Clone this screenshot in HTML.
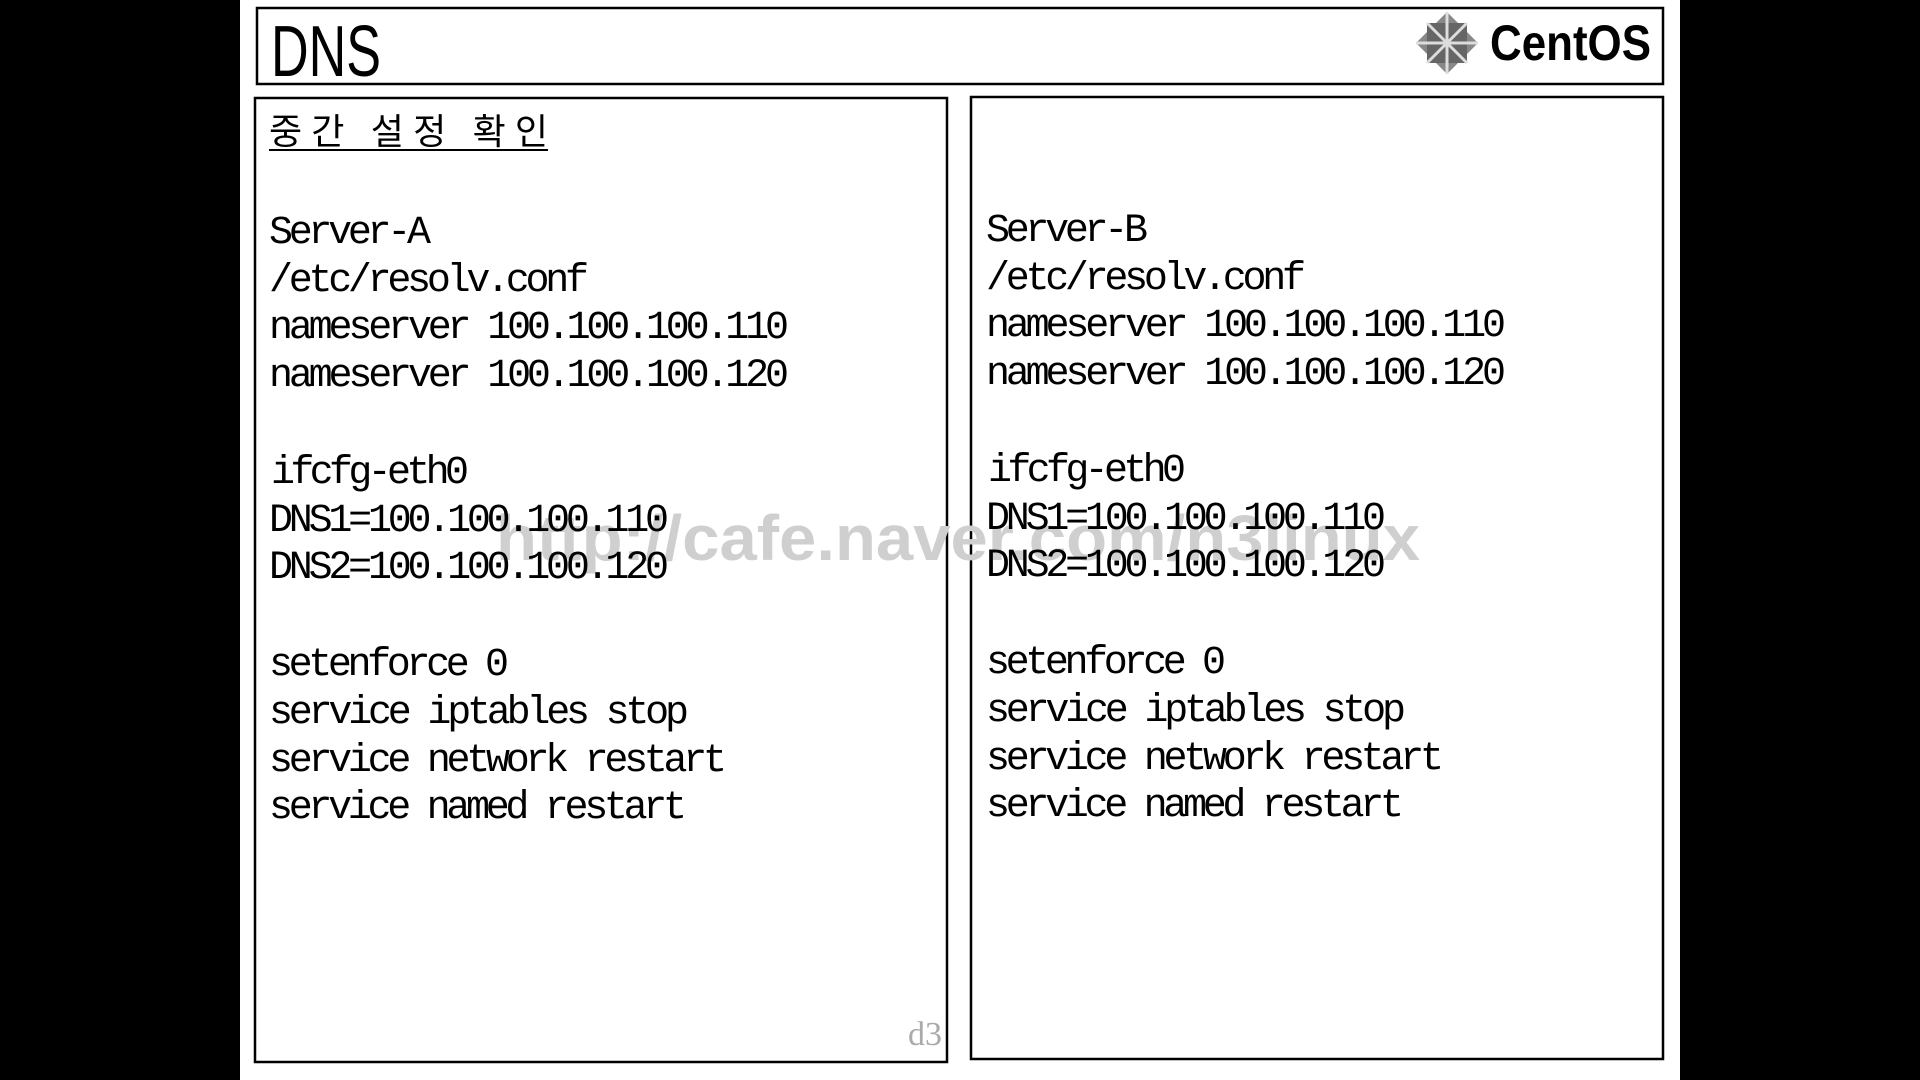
<!DOCTYPE html>
<html><head><meta charset="utf-8"><style>
html,body{margin:0;padding:0;background:#000;}
svg{display:block}
</style></head><body>
<svg width="1920" height="1080" viewBox="0 0 1920 1080" xmlns="http://www.w3.org/2000/svg">
<rect x="0" y="0" width="1920" height="1080" fill="#000"/>
<rect x="240" y="0" width="1440" height="1080" fill="#fff"/>
<rect x="257" y="8" width="1406" height="76" fill="none" stroke="#000" stroke-width="2.5"/>
<rect x="255" y="98" width="692" height="964" fill="none" stroke="#000" stroke-width="2.5"/>
<rect x="971" y="97" width="692" height="962" fill="none" stroke="#000" stroke-width="2.5"/>
<text x="271" y="76" font-family="Liberation Sans, sans-serif" font-size="72" textLength="110" lengthAdjust="spacingAndGlyphs">DNS</text>
<g transform="translate(1447,43)">
<polygon points="0,-31 31,0 0,31 -31,0" fill="#888"/>
<rect x="-20" y="-20" width="40" height="40" fill="#666"/>
<path d="M0,-31 L0,31 M-31,0 L31,0 M-20,-20 L20,20 M-20,20 L20,-20" stroke="#ddd" stroke-width="3"/>
</g>
<text x="1490" y="60" font-family="Liberation Sans, sans-serif" font-weight="bold" font-size="50" textLength="161" lengthAdjust="spacingAndGlyphs">CentOS</text>
<text x="496" y="560" font-family="Liberation Sans, sans-serif" font-weight="bold" font-size="64" fill="#cfcfcf" textLength="924" lengthAdjust="spacingAndGlyphs">http://cafe.naver.com/n3linux</text>
<g font-family="Liberation Mono, 'Noto Sans CJK KR', monospace" font-size="40" fill="#000" lengthAdjust="spacingAndGlyphs">
<text x="269" y="144" textLength="279" font-family="'Noto Sans CJK KR', sans-serif" font-size="36">중간 설정 확인</text>
<line x1="269" y1="150" x2="548" y2="150" stroke="#000" stroke-width="2"/>
<text x="269" y="243" textLength="162">Server-A</text>
<text x="269" y="291" textLength="320">/etc/resolv.conf</text>
<text x="269" y="338" textLength="520">nameserver 100.100.100.110</text>
<text x="269" y="386" textLength="520">nameserver 100.100.100.120</text>
<text x="271" y="483" textLength="198">ifcfg-eth0</text>
<text x="269" y="531" textLength="400">DNS1=100.100.100.110</text>
<text x="269" y="578" textLength="400">DNS2=100.100.100.120</text>
<text x="269" y="675" textLength="240">setenforce 0</text>
<text x="269" y="723" textLength="420">service iptables stop</text>
<text x="269" y="771" textLength="458">service network restart</text>
<text x="269" y="818" textLength="418">service named restart</text>

<text x="986" y="241" textLength="162">Server-B</text>
<text x="986" y="289" textLength="320">/etc/resolv.conf</text>
<text x="986" y="336" textLength="520">nameserver 100.100.100.110</text>
<text x="986" y="384" textLength="520">nameserver 100.100.100.120</text>
<text x="988" y="481" textLength="198">ifcfg-eth0</text>
<text x="986" y="529" textLength="400">DNS1=100.100.100.110</text>
<text x="986" y="576" textLength="400">DNS2=100.100.100.120</text>
<text x="986" y="673" textLength="240">setenforce 0</text>
<text x="986" y="721" textLength="420">service iptables stop</text>
<text x="986" y="769" textLength="458">service network restart</text>
<text x="986" y="816" textLength="418">service named restart</text>
</g>
<text x="908" y="1045" font-family="Liberation Serif, serif" font-size="34" fill="#aaa">d3</text>
</svg>
</body></html>
